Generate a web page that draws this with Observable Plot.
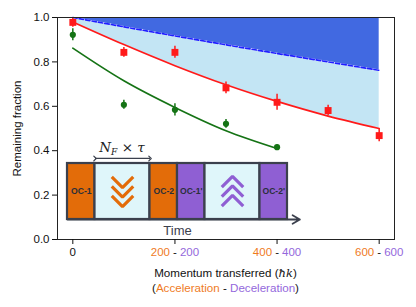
<!DOCTYPE html>
<html>
<head>
<meta charset="utf-8">
<script src="https://cdn.jsdelivr.net/npm/d3@7"></script>
<script src="https://cdn.jsdelivr.net/npm/@observablehq/plot@0.6"></script>
<style>
  html, body { margin: 0; padding: 0; background: #fff; }
  #wrap { position: relative; width: 416px; height: 307px; }
  #inset { position: absolute; left: 60px; top: 138px; }
</style>
</head>
<body>
<div id="wrap"><div id="main"></div><div id="inset"></div></div>
<script>
// ---- data ----
const momentum = [0, 100, 200, 300, 400, 500, 600];
const redValues = [0.978, 0.843, 0.843, 0.683, 0.618, 0.581, 0.468];
const redErrors = [0.022, 0.022, 0.027, 0.027, 0.036, 0.024, 0.028];
const greenMomentum = [0, 100, 200, 300, 400];
const greenValues = [0.922, 0.607, 0.584, 0.521, 0.416];
const greenErrors = [0.027, 0.02, 0.028, 0.02, 0.01];
const fitMomentum = [0, 100, 200, 300, 400, 500, 600];
const redFit = [0.98, 0.878, 0.783, 0.697, 0.622, 0.556, 0.50];
const boundFit = [1.0, 0.958, 0.917, 0.877, 0.838, 0.80, 0.762];
const greenFitMomentum = [0, 100, 200, 300, 400];
const greenFit = [0.862, 0.715, 0.595, 0.49, 0.41];
const yTicks = [0, 0.2, 0.4, 0.6, 0.8, 1.0];
const xTicks = [0, 200, 400, 600];
const accLabels = ["0", "200", "400", "600"];
const decLabels = ["", "200", "400", "600"];

// inset sequence
const phaseNames = ["OC-1", "", "OC-2", "OC-1'", "", "OC-2'"];
const phaseKinds = ["acc", "ramp", "acc", "dec", "ramp", "dec"];
const phaseDurations = [1, 2, 1, 1, 2, 1];

const ORANGE = "#e36c09", ORANGE_T = "#ef7b1e";
const PURPLE = "#8f5fd3", PURPLE_T = "#9468dc";
const RAMP = "#dff6fa", BORDER = "#3b404d";
const RED = "#ff1a1a", GREEN = "#157315";
const font = "Liberation Sans, Arial, Helvetica, sans-serif";

const fit = fitMomentum.map((x, i) => ({x, red: redFit[i], bound: boundFit[i]}));
const red = momentum.map((x, i) => ({x, y: redValues[i], e: redErrors[i]}));
const green = greenMomentum.map((x, i) => ({x, y: greenValues[i], e: greenErrors[i]}));
const gfit = greenFitMomentum.map((x, i) => ({x, y: greenFit[i]}));
const ticks = xTicks.map((x, i) => ({x, a: accLabels[i], d: decLabels[i]}));

const plot = Plot.plot({
  width: 416, height: 307,
  marginLeft: 57, marginRight: 22, marginTop: 17, marginBottom: 68,
  style: {fontFamily: font, fontSize: "11.5px", background: "#fff", overflow: "visible"},
  x: {domain: [-30, 630]},
  y: {domain: [0, 1]},
  marks: [
    Plot.areaY(fit, {x: "x", y1: "bound", y2: 1, fill: "#4169e1", curve: "catmull-rom"}),
    Plot.areaY(fit, {x: "x", y1: "red", y2: "bound", fill: "#c3e5f4", curve: "catmull-rom"}),
    Plot.line(fit, {x: "x", y: "bound", stroke: "#fff", strokeWidth: 1.6, curve: "catmull-rom"}),
    Plot.line(fit, {x: "x", y: "bound", stroke: "#1f1fff", strokeWidth: 1.7, strokeDasharray: "4.5,2", curve: "catmull-rom"}),
    Plot.line(fit, {x: "x", y: "red", stroke: RED, strokeWidth: 1.7, curve: "catmull-rom"}),
    Plot.line(gfit, {x: "x", y: "y", stroke: GREEN, strokeWidth: 1.7, curve: "catmull-rom"}),
    Plot.ruleX(red, {x: "x", y1: d => d.y - d.e, y2: d => d.y + d.e, stroke: RED, strokeWidth: 1.5}),
    Plot.ruleX(green, {x: "x", y1: d => d.y - d.e, y2: d => d.y + d.e, stroke: GREEN, strokeWidth: 1.5}),
    Plot.dot(red, {x: "x", y: "y", symbol: "square", r: 3.9, fill: RED}),
    Plot.dot(green, {x: "x", y: "y", symbol: "circle", r: 3.1, fill: GREEN}),
    Plot.frame({stroke: "#222", strokeWidth: 1}),
    Plot.axisY({ticks: yTicks, tickFormat: d3.format(".1f"), tickSize: 5, tickPadding: 3,
      label: "Remaining fraction", labelAnchor: "center", labelArrow: "none", labelOffset: 45,
      fill: "#111", stroke: "#111"}),
    Plot.axisX({ticks: xTicks, tickSize: 5, tickFormat: () => "", label: null, stroke: "#111"}),
    Plot.text(ticks, {x: "x", frameAnchor: "bottom", dy: 16, text: d => d.d ? "-" : d.a, fill: "#111", fontSize: 11.5}),
    Plot.text(ticks.filter(d => d.d), {x: "x", frameAnchor: "bottom", dy: 16, dx: -5, textAnchor: "end", text: "a", fill: ORANGE_T, fontSize: 11.5}),
    Plot.text(ticks.filter(d => d.d), {x: "x", frameAnchor: "bottom", dy: 16, dx: 5, textAnchor: "start", text: "d", fill: PURPLE_T, fontSize: 11.5})
  ]
});
document.getElementById("main").appendChild(plot);

// x axis title (two lines, mixed colours)
const xs = plot.scale("x");
const svg = d3.select(plot);
const cx = xs.apply(300);
const t1 = svg.append("text").attr("x", cx).attr("y", 277).attr("text-anchor", "middle")
  .attr("font-size", 11.6).attr("fill", "#111");
t1.append("tspan").text("Momentum transferred (");
t1.append("tspan").attr("font-style", "italic").attr("font-family", "DejaVu Serif, serif").attr("font-size", 11.5).text("ħk");
t1.append("tspan").text(")");
const t2 = svg.append("text").attr("x", cx).attr("y", 292).attr("text-anchor", "middle")
  .attr("font-size", 11.6).attr("fill", "#111");
t2.append("tspan").text("(");
t2.append("tspan").attr("fill", ORANGE_T).text("Acceleration");
t2.append("tspan").text(" - ");
t2.append("tspan").attr("fill", PURPLE_T).text("Deceleration");
t2.append("tspan").text(")");

// ---- inset sequence diagram ----
const ends = d3.cumsum(phaseDurations);
const phases = phaseNames.map((name, i) => ({
  name, kind: phaseKinds[i], x1: ends[i] - phaseDurations[i], x2: ends[i]
}));
const fillOf = {acc: ORANGE, dec: PURPLE, ramp: RAMP};
const chevrons = [];
phases.forEach((p, i) => {
  if (p.kind !== "ramp") return;
  const c = (p.x1 + p.x2) / 2;
  const down = phaseKinds[i - 1] === "acc";
  [0, 1, 2].forEach(k => {
    const base = down ? 0.76 - k * 0.17 : 0.24 + k * 0.17;
    const tip = down ? base - 0.19 : base + 0.19;
    const col = down ? ORANGE : PURPLE;
    chevrons.push({id: i * 10 + k, x: c - 0.39, y: base, col});
    chevrons.push({id: i * 10 + k, x: c, y: tip, col});
    chevrons.push({id: i * 10 + k, x: c + 0.39, y: base, col});
  });
});
const total = ends[ends.length - 1];
const span = phases.find(p => p.kind === "ramp");

const inset = Plot.plot({
  width: 250, height: 100,
  marginLeft: 7, marginRight: 23, marginTop: 25, marginBottom: 19,
  style: {fontFamily: font, background: "transparent", overflow: "visible"},
  x: {domain: [0, total], axis: null},
  y: {domain: [0, 1], axis: null},
  marks: [
    Plot.rect(phases, {x1: "x1", x2: "x2", y1: 0, y2: 1, fill: d => fillOf[d.kind], stroke: BORDER, strokeWidth: 2.2}),
    Plot.line(chevrons, {x: "x", y: "y", z: "id", stroke: "col", strokeWidth: 3.2, strokeLinejoin: "miter", strokeLinecap: "butt"}),
    Plot.text(phases.filter(d => d.name), {x: d => (d.x1 + d.x2) / 2, y: 0.5, text: "name", fontWeight: "bold", fontSize: 8.6, fill: "#2a2f3a"}),
    Plot.arrow([{x1: 0, x2: total + 0.45}], {x1: "x1", x2: "x2", y1: 0, y2: 0, stroke: BORDER, strokeWidth: 1.8, headLength: 7}),
    Plot.link([span], {x1: "x1", x2: "x2", y1: 1.09, y2: 1.09, stroke: BORDER, strokeWidth: 1.2, markerStart: "arrow", markerEnd: "arrow"}),
    Plot.text(["Time"], {x: total / 2, y: -0.2, text: d => d, fontSize: 13, fill: BORDER})
  ]
});
document.getElementById("inset").appendChild(inset);
const ix = inset.scale("x"), iy = inset.scale("y");
const nf = d3.select(inset).append("text")
  .attr("x", ix.apply((span.x1 + span.x2) / 2)).attr("y", iy.apply(1.27) + 4.5)
  .attr("text-anchor", "middle").attr("font-family", "DejaVu Serif, Liberation Serif, serif")
  .attr("font-size", 13.5).attr("fill", "#222");
nf.append("tspan").attr("font-style", "italic").text("N");
nf.append("tspan").attr("font-style", "italic").attr("font-size", 9).attr("dy", 3).text("F");
nf.append("tspan").attr("dy", -3).text(" × ");
nf.append("tspan").attr("font-style", "italic").text("τ");
</script>
</body>
</html>
